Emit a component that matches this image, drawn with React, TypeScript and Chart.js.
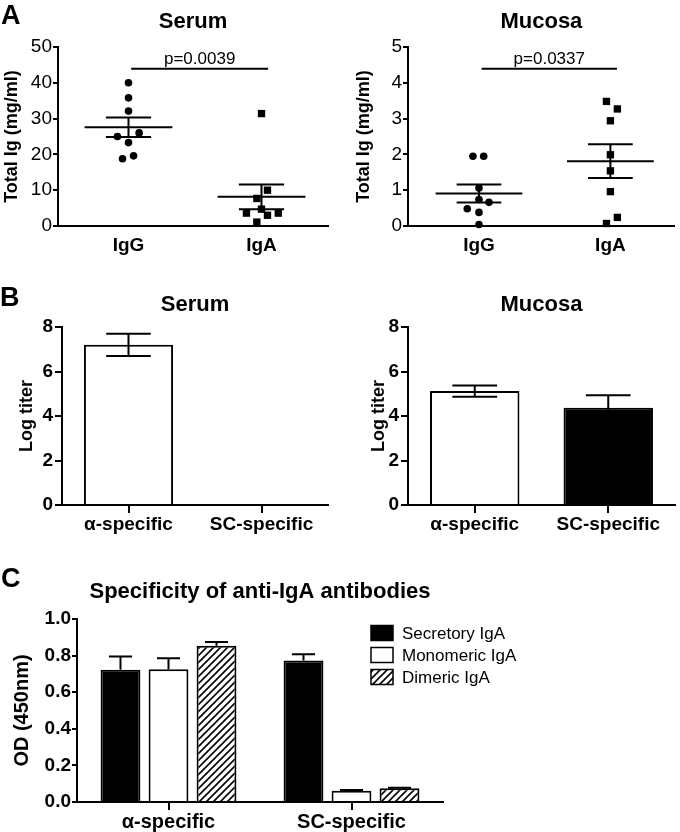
import React, { useEffect, useRef } from "react";
import { Chart, registerables } from "chart.js";

Chart.register(...registerables);

const FONT = "'Liberation Sans', Arial, Helvetica, sans-serif";
Chart.defaults.font.family = FONT;
Chart.defaults.color = "#000";

// ---------- Panel A: total Ig (dot plots) ----------
const groupsA = ["IgG", "IgA"];
const serumIgG = [40.0, 35.8, 32.1, 26.0, 25.0, 23.3, 19.6, 18.8];
const serumIgGJitter = [0, 0, 0, 0.08, -0.083, 0, 0.038, -0.045];
const serumIgA = [31.4, 10.0, 7.7, 4.7, 3.6, 3.6, 3.0, 1.1];
const serumIgAJitter = [0, 0.045, -0.035, 0, -0.113, 0.126, 0.045, -0.035];
const mucosaIgG = [1.95, 1.95, 1.06, 0.74, 0.66, 0.48, 0.38, 0.04];
const mucosaIgGJitter = [-0.046, 0.036, 0, 0, 0.076, -0.089, 0, 0];
const mucosaIgA = [3.48, 3.27, 2.94, 1.99, 1.54, 0.96, 0.24, 0.07];
const mucosaIgAJitter = [-0.03, 0.053, 0, 0, 0, 0, 0.053, -0.03];
const serumPText = "p=0.0039";
const serumPLine = 43.9;
const mucosaPText = "p=0.0337";
const mucosaPLine = 4.39;
const pLineSpan = [0.02, 1.05];
const serumTicksA = { max: 50, step: 10 };
const mucosaTicksA = { max: 5, step: 1 };

// ---------- Panel B: log titers ----------
const categoriesB = ["α-specific", "SC-specific"];
const serumTiter = [7.2, 0];
const serumTiterSem = [0.5, 0];
const mucosaTiter = [5.12, 4.37];
const mucosaTiterSem = [0.25, 0.56];

// ---------- Panel C: specificity ----------
const categoriesC = ["α-specific", "SC-specific"];
const seriesC = ["Secretory IgA", "Monomeric IgA", "Dimeric IgA"];
const secretoryOD = [0.722, 0.773];
const secretorySem = [0.073, 0.035];
const monomericOD = [0.726, 0.062];
const monomericSem = [0.06, 0.004];
const dimericOD = [0.854, 0.075];
const dimericSem = [0.02, 0.003];

function meanSem(values: number[]) {
  const n = values.length;
  const mean = values.reduce((a, b) => a + b, 0) / n;
  const sd = Math.sqrt(values.reduce((a, b) => a + (b - mean) ** 2, 0) / (n - 1));
  return { mean, sem: sd / Math.sqrt(n) };
}

function summaryLine(values: number[], c: number) {
  const { mean, sem } = meanSem(values);
  const M = 0.33;
  const S = 0.17;
  return [
    { x: c - M, y: mean }, { x: c + M, y: mean }, { x: c, y: null },
    { x: c - S, y: mean + sem }, { x: c + S, y: mean + sem }, { x: c, y: null },
    { x: c - S, y: mean - sem }, { x: c + S, y: mean - sem }, { x: c, y: null },
    { x: c, y: mean - sem }, { x: c, y: mean + sem },
  ];
}

const errorBarPlugin = {
  id: "errorBars",
  afterDatasetsDraw(chart: any, _args: any, opts: any) {
    const ctx = chart.ctx;
    const yScale = chart.scales.y;
    chart.data.datasets.forEach((ds: any, i: number) => {
      const errs = ds.errors;
      if (!errs) return;
      const meta = chart.getDatasetMeta(i);
      meta.data.forEach((bar: any, j: number) => {
        const v = ds.data[j];
        const e = errs[j];
        if (v == null || !e) return;
        const x = bar.x;
        const half = bar.width * opts.capRatio;
        const yTop = yScale.getPixelForValue(v + e);
        const yBot = yScale.getPixelForValue(opts.both ? v - e : v);
        ctx.save();
        ctx.strokeStyle = "#000";
        ctx.lineWidth = 2;
        ctx.beginPath();
        ctx.moveTo(x, yTop);
        ctx.lineTo(x, yBot);
        ctx.moveTo(x - half, yTop);
        ctx.lineTo(x + half, yTop);
        if (opts.both) {
          ctx.moveTo(x - half, yBot);
          ctx.lineTo(x + half, yBot);
        }
        ctx.stroke();
        ctx.restore();
      });
    });
  },
};

const pValuePlugin = {
  id: "pValue",
  afterDatasetsDraw(chart: any, _args: any, opts: any) {
    const ctx = chart.ctx;
    const cx = chart.scales.x.getPixelForValue((opts.span[0] + opts.span[1]) / 2);
    const cy = chart.scales.y.getPixelForValue(opts.lineY);
    ctx.save();
    ctx.fillStyle = "#000";
    ctx.font = `17px ${FONT}`;
    ctx.textAlign = "center";
    ctx.textBaseline = "alphabetic";
    ctx.fillText(opts.text, cx, cy - 5);
    ctx.restore();
  },
};

const boxLegendPlugin = {
  id: "boxLegend",
  afterDraw(chart: any, _args: any, opts: any) {
    const ctx = chart.ctx;
    chart.data.datasets.forEach((ds: any, i: number) => {
      const y = opts.y + i * opts.rowGap;
      ctx.save();
      ctx.fillStyle = ds.backgroundColor;
      ctx.fillRect(opts.x, y - opts.boxH / 2, opts.boxW, opts.boxH);
      ctx.strokeStyle = "#000";
      ctx.lineWidth = 1.5;
      ctx.strokeRect(opts.x, y - opts.boxH / 2, opts.boxW, opts.boxH);
      ctx.fillStyle = "#000";
      ctx.font = `17px ${FONT}`;
      ctx.textAlign = "left";
      ctx.textBaseline = "middle";
      ctx.fillText(ds.label, opts.x + opts.boxW + opts.gap, y + 1);
      ctx.restore();
    });
  },
};

function titleOpts(text: string, size: number, top: number, bottom: number) {
  return {
    display: true,
    text,
    fullSize: false,
    color: "#000",
    font: { family: FONT, size, weight: "bold" as const, lineHeight: 1.2 },
    padding: { top, bottom },
  };
}

function yAxisBase(width: number, titleText: string, titleSize: number, titlePad: number, tickLen: number, tickPad: number, bold: boolean) {
  return {
    afterFit: (s: any) => { s.width = width; },
    grid: { drawOnChartArea: false, color: "#000", lineWidth: 2, tickLength: tickLen },
    border: { display: true, color: "#000", width: 2 },
    title: {
      display: true,
      text: titleText,
      color: "#000",
      font: { size: titleSize, weight: "bold" as const, lineHeight: 1.2 },
      padding: { top: titlePad, bottom: 0 },
    },
    ticks: { color: "#000", padding: tickPad, font: { size: 19, weight: bold ? ("bold" as const) : ("normal" as const) } },
  };
}

function dotConfig(p: any) {
  return {
    type: "scatter" as const,
    data: {
      datasets: [
        {
          data: p.a.map((v: number, i: number) => ({ x: 0 + p.aJ[i], y: v })),
          pointStyle: "circle", pointRadius: 3.8, backgroundColor: "#000", borderWidth: 0, clip: false,
        },
        {
          data: p.b.map((v: number, i: number) => ({ x: 1 + p.bJ[i], y: v })),
          pointStyle: "rect", pointRadius: 5.2, backgroundColor: "#000", borderWidth: 0, clip: false,
        },
        {
          data: summaryLine(p.a, 0), showLine: true, pointRadius: 0, borderColor: "#000", borderWidth: 2, clip: false,
        },
        {
          data: summaryLine(p.b, 1), showLine: true, pointRadius: 0, borderColor: "#000", borderWidth: 2, clip: false,
        },
        {
          data: [{ x: pLineSpan[0], y: p.pLine }, { x: pLineSpan[1], y: p.pLine }],
          showLine: true, pointRadius: 0, borderColor: "#000", borderWidth: 2, clip: false,
        },
      ],
    },
    options: {
      animation: false as const,
      responsive: false,
      events: [],
      layout: { padding: { right: p.padR } },
      plugins: {
        legend: { display: false },
        tooltip: { enabled: false },
        title: titleOpts(p.title, 22, 8.8, 11.8),
        pValue: { text: p.pText, lineY: p.pLine, span: pLineSpan },
      },
      scales: {
        x: {
          type: "linear" as const,
          min: p.xMin,
          max: p.xMax,
          afterFit: (s: any) => { s.height = p.xH; },
          afterBuildTicks: (s: any) => { s.ticks = groupsA.map((_, i) => ({ value: i })); },
          grid: { display: false, drawTicks: false },
          border: { display: true, color: "#000", width: 2 },
          ticks: {
            color: "#000", padding: 8, autoSkip: false, maxRotation: 0,
            font: { size: 19, weight: "bold" as const },
            callback: (v: any) => groupsA[Math.round(v)],
          },
        },
        y: {
          ...yAxisBase(p.yW, "Total Ig (mg/ml)", 18, p.yTitlePad, 5, 1, false),
          min: 0,
          max: p.ticks.max,
          ticks: { color: "#000", padding: 1, stepSize: p.ticks.step, font: { size: 19 } },
        },
      },
    },
    plugins: [pValuePlugin],
  };
}

function titerConfig(p: any) {
  return {
    type: "bar" as const,
    data: {
      labels: categoriesB,
      datasets: [
        {
          data: p.values,
          errors: p.sem,
          backgroundColor: p.colors,
          borderColor: "#000",
          borderWidth: 2,
          categoryPercentage: 1,
          barPercentage: 0.67,
        },
      ],
    },
    options: {
      animation: false as const,
      responsive: false,
      events: [],
      layout: { padding: { right: p.padR } },
      plugins: {
        legend: { display: false },
        tooltip: { enabled: false },
        title: titleOpts(p.title, 22, 21.8, 8.8),
        errorBars: { both: true, capRatio: 0.25 },
      },
      scales: {
        x: {
          afterFit: (s: any) => { s.height = p.xH; },
          grid: { offset: false, drawOnChartArea: false, color: "#000", lineWidth: 2, tickLength: 8 },
          border: { display: true, color: "#000", width: 2 },
          ticks: { color: "#000", padding: 0, font: { size: 19, weight: "bold" as const } },
        },
        y: {
          ...yAxisBase(p.yW, "Log titer", 18, p.yTitlePad, 7, 2, true),
          min: 0,
          max: 8,
          ticks: { color: "#000", padding: 2, stepSize: 2, font: { size: 19, weight: "bold" as const } },
        },
      },
    },
    plugins: [errorBarPlugin],
  };
}

function makeHatch(ctx: CanvasRenderingContext2D) {
  const size = 7;
  const tile = document.createElement("canvas");
  tile.width = size;
  tile.height = size;
  const g = tile.getContext("2d")!;
  g.fillStyle = "#fff";
  g.fillRect(0, 0, size, size);
  g.strokeStyle = "#000";
  g.lineWidth = 1.6;
  g.beginPath();
  g.moveTo(-1, size + 1);
  g.lineTo(size + 1, -1);
  g.moveTo(-2, 2);
  g.lineTo(2, -2);
  g.moveTo(size - 2, size + 2);
  g.lineTo(size + 2, size - 2);
  g.stroke();
  return ctx.createPattern(tile, "repeat");
}

function specificityConfig(hatch: any) {
  const common = { borderColor: "#000", borderWidth: 2, categoryPercentage: 0.787, barPercentage: 0.83 };
  return {
    type: "bar" as const,
    data: {
      labels: categoriesC,
      datasets: [
        { label: seriesC[0], data: secretoryOD, errors: secretorySem, backgroundColor: "#000", ...common },
        { label: seriesC[1], data: monomericOD, errors: monomericSem, backgroundColor: "#fff", ...common },
        { label: seriesC[2], data: dimericOD, errors: dimericSem, backgroundColor: hatch, ...common },
      ],
    },
    options: {
      animation: false as const,
      responsive: false,
      events: [],
      layout: { padding: { right: 237 } },
      plugins: {
        legend: { display: false },
        tooltip: { enabled: false },
        title: titleOpts("Specificity of anti-IgA antibodies", 22, 18.8, 13.8),
        errorBars: { both: false, capRatio: 0.29 },
        boxLegend: { x: 371, y: 73, rowGap: 22, boxW: 22, boxH: 15, gap: 9 },
      },
      scales: {
        x: {
          afterFit: (s: any) => { s.height = 30; },
          grid: { offset: false, drawOnChartArea: false, color: "#000", lineWidth: 2, tickLength: 8 },
          border: { display: true, color: "#000", width: 2 },
          ticks: { color: "#000", padding: 0, font: { size: 20, weight: "bold" as const } },
        },
        y: {
          ...yAxisBase(77, "OD (450nm)", 20, 10, 5, 1, true),
          min: 0,
          max: 1,
          ticks: {
            color: "#000", padding: 1, stepSize: 0.2,
            font: { size: 19, weight: "bold" as const },
            callback: (v: any) => Number(v).toFixed(1),
          },
        },
      },
    },
    plugins: [errorBarPlugin, boxLegendPlugin],
  };
}

const letterStyle = (left: number, top: number): React.CSSProperties => ({
  position: "absolute",
  left,
  top,
  font: `bold 27px ${FONT}`,
  lineHeight: "27px",
  color: "#000",
});

const canvasStyle = (left: number, top: number, w: number, h: number): React.CSSProperties => ({
  position: "absolute",
  left,
  top,
  width: w,
  height: h,
});

export default function App() {
  const aSerum = useRef<HTMLCanvasElement>(null);
  const aMucosa = useRef<HTMLCanvasElement>(null);
  const bSerum = useRef<HTMLCanvasElement>(null);
  const bMucosa = useRef<HTMLCanvasElement>(null);
  const cSpec = useRef<HTMLCanvasElement>(null);

  useEffect(() => {
    const charts: Chart[] = [];
    charts.push(
      new Chart(aSerum.current!, dotConfig({
        title: "Serum", a: serumIgG, aJ: serumIgGJitter, b: serumIgA, bJ: serumIgAJitter,
        pLine: serumPLine, pText: serumPText, ticks: serumTicksA,
        xMin: -0.53, xMax: 1.5, xH: 34, yW: 58, padR: 12, yTitlePad: 1.2,
      }) as any)
    );
    charts.push(
      new Chart(aMucosa.current!, dotConfig({
        title: "Mucosa", a: mucosaIgG, aJ: mucosaIgGJitter, b: mucosaIgA, bJ: mucosaIgAJitter,
        pLine: mucosaPLine, pText: mucosaPText, ticks: mucosaTicksA,
        xMin: -0.54, xMax: 1.49, xH: 34, yW: 68, padR: 5, yTitlePad: 13.2,
      }) as any)
    );
    charts.push(
      new Chart(bSerum.current!, titerConfig({
        title: "Serum", values: serumTiter, sem: serumTiterSem, colors: ["#fff", "#fff"],
        xH: 45, yW: 62, padR: 12, yTitlePad: 16.2,
      }) as any)
    );
    charts.push(
      new Chart(bMucosa.current!, titerConfig({
        title: "Mucosa", values: mucosaTiter, sem: mucosaTiterSem, colors: ["#fff", "#000"],
        xH: 45, yW: 68, padR: 5, yTitlePad: 28.2,
      }) as any)
    );
    const hatch = makeHatch(cSpec.current!.getContext("2d")!);
    charts.push(new Chart(cSpec.current!, specificityConfig(hatch) as any));
    return () => charts.forEach((c) => c.destroy());
  }, []);

  return (
    <div style={{ position: "fixed", left: 0, top: 0, width: 680, height: 832, background: "#fff", overflow: "hidden" }}>
      <canvas ref={aSerum} width={340} height={260} style={canvasStyle(0, 0, 340, 260)} />
      <canvas ref={aMucosa} width={340} height={260} style={canvasStyle(340, 0, 340, 260)} />
      <canvas ref={bSerum} width={340} height={280} style={canvasStyle(0, 270, 340, 280)} />
      <canvas ref={bMucosa} width={340} height={280} style={canvasStyle(340, 270, 340, 280)} />
      <canvas ref={cSpec} width={680} height={272} style={canvasStyle(0, 560, 680, 272)} />
      <div style={letterStyle(1, 1.5)}>A</div>
      <div style={letterStyle(0, 283.5)}>B</div>
      <div style={letterStyle(1, 564.5)}>C</div>
    </div>
  );
}
